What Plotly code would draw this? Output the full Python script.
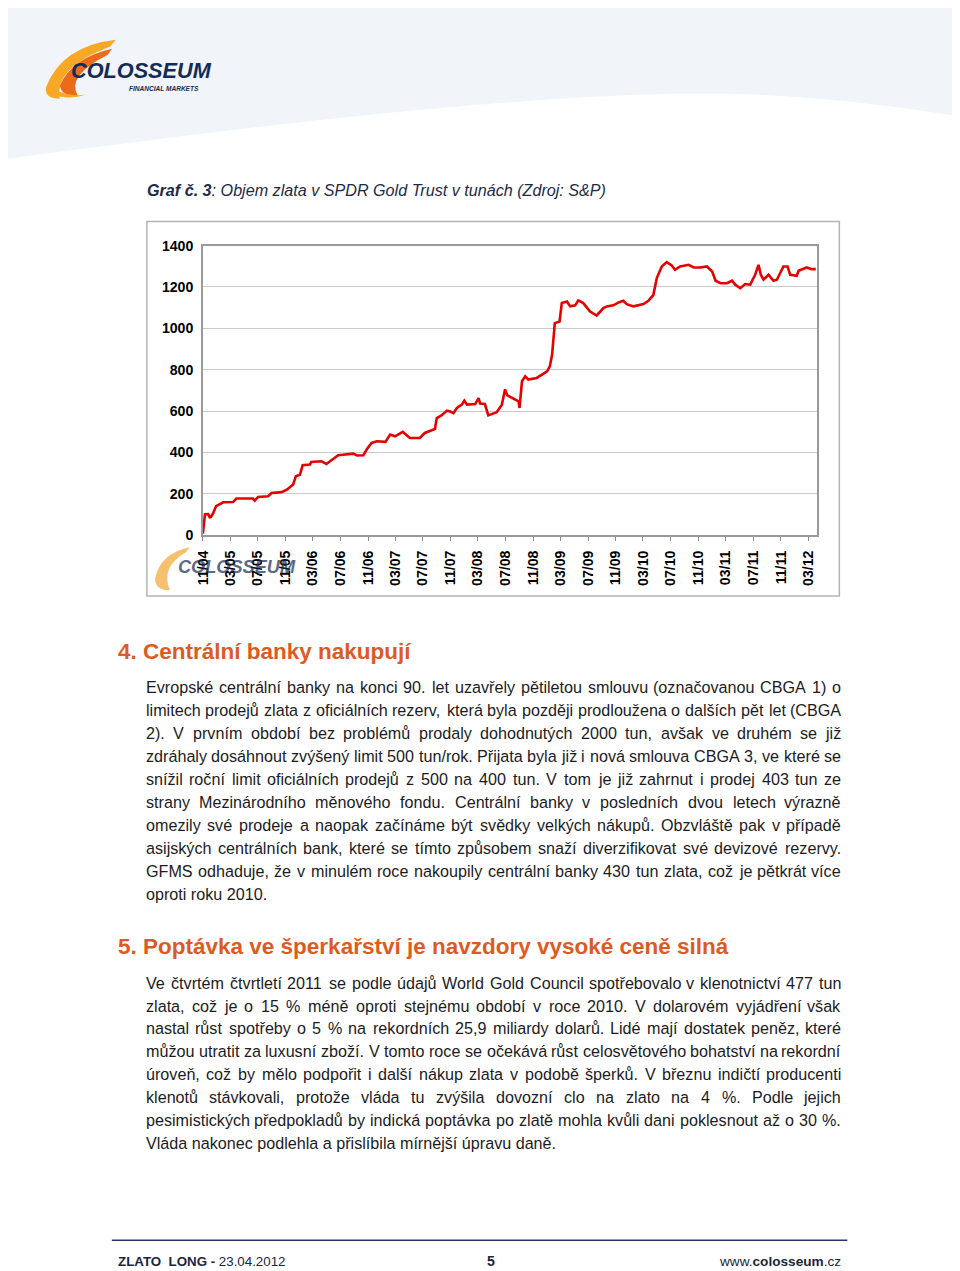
import unicodedata
from plotly import graph_objects as go

W, H = 960, 1271

# SPDR Gold Trust holdings (tonnes)
dates = [
    "2004-11-18", "2004-11-24", "2004-11-27", "2004-12-11", "2004-12-18", "2004-12-23",
    "2005-01-03", "2005-01-15", "2005-02-01", "2005-02-16", "2005-03-31", "2005-04-15",
    "2005-06-27", "2005-07-05", "2005-07-20", "2005-09-02", "2005-09-18", "2005-11-01",
    "2005-11-24", "2005-12-22", "2006-01-03", "2006-01-21", "2006-02-02", "2006-03-06",
    "2006-03-12", "2006-04-27", "2006-05-18", "2006-06-03", "2006-07-09", "2006-07-31",
    "2006-09-14", "2006-09-30", "2006-10-28", "2006-11-12", "2006-12-04", "2006-12-27",
    "2007-02-03", "2007-02-24", "2007-03-17", "2007-04-21", "2007-05-22", "2007-07-05",
    "2007-07-27", "2007-09-10", "2007-09-18", "2007-10-09", "2007-11-02", "2007-11-16",
    "2007-12-01", "2007-12-16", "2008-01-07", "2008-01-18", "2008-01-30", "2008-03-06",
    "2008-03-21", "2008-03-28", "2008-04-18", "2008-05-03", "2008-06-09", "2008-07-02",
    "2008-07-16", "2008-07-26", "2008-08-22", "2008-09-14", "2008-09-18", "2008-09-29",
    "2008-10-13", "2008-10-27", "2008-12-03", "2009-01-18", "2009-01-30", "2009-02-09",
    "2009-02-21", "2009-03-14", "2009-03-24", "2009-04-16", "2009-04-30", "2009-05-22",
    "2009-06-05", "2009-06-27", "2009-07-26", "2009-08-25", "2009-09-24", "2009-10-09",
    "2009-11-07", "2009-11-30", "2009-12-21", "2010-01-05", "2010-02-04", "2010-03-20",
    "2010-04-11", "2010-05-03", "2010-05-18", "2010-06-09", "2010-07-01", "2010-07-23",
    "2010-08-07", "2010-08-29", "2010-10-06", "2010-10-28", "2010-11-27", "2010-12-26",
    "2011-01-18", "2011-02-02", "2011-02-24", "2011-03-24", "2011-04-16", "2011-04-30",
    "2011-05-22", "2011-06-13", "2011-07-05", "2011-07-27", "2011-08-11", "2011-08-21",
    "2011-09-02", "2011-09-24", "2011-10-16", "2011-10-31", "2011-11-29", "2011-12-17",
    "2011-12-29", "2012-01-27", "2012-02-04", "2012-03-11", "2012-04-02", "2012-04-20",
]
tonnes = [
    8, 98, 101, 102, 87, 88,
    108, 140, 151, 159, 160, 177,
    177, 167, 185, 188, 204, 208,
    220, 245, 285, 292, 338, 341,
    354, 357, 344, 357, 386, 389,
    394, 385, 386, 414, 446, 454,
    451, 486, 478, 499, 470, 470,
    494, 513, 566, 579, 602, 598,
    590, 615, 631, 650, 631, 634,
    663, 636, 634, 579, 594, 631,
    705, 676, 660, 647, 615, 744,
    768, 752, 760, 792, 816, 872,
    1025, 1033, 1122, 1130, 1106, 1111,
    1135, 1122, 1082, 1062, 1098, 1106,
    1111, 1125, 1133, 1117, 1106, 1117,
    1133, 1162, 1243, 1299, 1320, 1304,
    1283, 1299, 1307, 1294, 1294, 1299,
    1275, 1230, 1218, 1218, 1230, 1211,
    1194, 1214, 1211, 1259, 1307, 1259,
    1235, 1259, 1230, 1235, 1299, 1299,
    1259, 1254, 1278, 1294, 1286, 1286,
]

tick_dates = [
    "2004-11-18", "2005-03-18", "2005-07-18", "2005-11-18", "2006-03-18", "2006-07-18",
    "2006-11-18", "2007-03-18", "2007-07-18", "2007-11-18", "2008-03-18", "2008-07-18",
    "2008-11-18", "2009-03-18", "2009-07-18", "2009-11-18", "2010-03-18", "2010-07-18",
    "2010-11-18", "2011-03-18", "2011-07-18", "2011-11-18", "2012-03-18",
]
tick_labels = [
    "11/04", "03/05", "07/05", "11/05", "03/06", "07/06", "11/06", "03/07", "07/07",
    "11/07", "03/08", "07/08", "11/08", "03/09", "07/09", "11/09", "03/10", "07/10",
    "11/10", "03/11", "07/11", "11/11", "03/12",
]

caption = "<b><i>Graf č. 3</i></b><i>: Objem zlata v SPDR Gold Trust v tunách (Zdroj: S&P)</i>"
heading4 = "4. Centrální banky nakupují"
para4 = [
    "Evropské centrální banky na konci 90. let uzavřely pětiletou smlouvu (označovanou CBGA 1) o",
    "limitech prodejů zlata z oficiálních rezerv, která byla později prodloužena o dalších pět let (CBGA",
    "2). V prvním období bez problémů prodaly dohodnutých 2000 tun, avšak ve druhém se již",
    "zdráhaly dosáhnout zvýšený limit 500 tun/rok. Přijata byla již i nová smlouva CBGA 3, ve které se",
    "snížil roční limit oficiálních prodejů z 500 na 400 tun. V tom je již zahrnut i prodej 403 tun ze",
    "strany Mezinárodního měnového fondu. Centrální banky v posledních dvou letech výrazně",
    "omezily své prodeje a naopak začínáme být svědky velkých nákupů. Obzvláště pak v případě",
    "asijských centrálních bank, které se tímto způsobem snaží diverzifikovat své devizové rezervy.",
    "GFMS odhaduje, že v minulém roce nakoupily centrální banky 430 tun zlata, což je pětkrát více",
    "oproti roku 2010.",
]
heading5 = "5. Poptávka ve šperkařství je navzdory vysoké ceně silná"
para5 = [
    "Ve čtvrtém čtvrtletí 2011 se podle údajů World Gold Council spotřebovalo v klenotnictví 477 tun",
    "zlata, což je o 15 % méně oproti stejnému období v roce 2010. V dolarovém vyjádření však",
    "nastal růst spotřeby o 5 % na rekordních 25,9 miliardy dolarů. Lidé mají dostatek peněz, které",
    "můžou utratit za luxusní zboží. V tomto roce se očekává růst celosvětového bohatství na rekordní",
    "úroveň, což by mělo podpořit i další nákup zlata v podobě šperků. V březnu indičtí producenti",
    "klenotů stávkovali, protože vláda tu zvýšila dovozní clo na zlato na 4 %. Podle jejich",
    "pesimistických předpokladů by indická poptávka po zlatě mohla kvůli dani poklesnout až o 30 %.",
    "Vláda nakonec podlehla a přislíbila mírnější úpravu daně.",
]

FONT = "Liberation Sans, Arial, sans-serif"
TEXT = "#1b1b24"
ORANGE = "#de5a22"
NAVY = "#132c57"

# the page is photographed slightly shrunk and shifted; layout below is in
# reference-picture pixels and mapped back to figure pixels here
SX, OX = 0.991, 16.2
SY, OY = 0.9888, 14.1

# Arial / Liberation Sans advance widths (per 1000 em)
ADV = dict(zip("abcdefghijklmnopqrstuvwxyz",
               [556, 556, 500, 556, 556, 278, 556, 556, 222, 222, 500, 222, 833,
                556, 556, 556, 556, 333, 500, 278, 556, 500, 722, 500, 500, 500]))
ADV.update(zip("ABCDEFGHIJKLMNOPQRSTUVWXYZ",
               [667, 667, 722, 722, 667, 611, 778, 722, 278, 500, 667, 556, 833,
                722, 778, 667, 778, 722, 667, 611, 722, 667, 944, 667, 667, 611]))
ADV.update({c: 556 for c in "0123456789"})
ADV.update({" ": 278, ".": 278, ",": 278, "(": 333, ")": 333, "%": 889,
            "/": 278, "-": 333, ":": 278, "&": 667,
            "í": 278, "ť": 375, "ď": 615})


def text_w(s, size):
    w = 0
    for ch in s:
        if ch in ADV:
            w += ADV[ch]
        else:
            w += ADV.get(unicodedata.normalize("NFD", ch)[0], 556)
    return w * size / 1000.0


def px(x):
    return (x - OX) / SX / W


def py(y):
    return 1 - (y - OY) / SY / H


def fs(size):
    return round(size / SX, 2)


def path(cmds):
    out = []
    for c in cmds:
        if isinstance(c, str):
            out.append(c)
        else:
            out.append(f"{px(c[0]):.5f},{py(c[1]):.5f}")
    return " ".join(out)


fig = go.Figure()

fig.add_trace(go.Scatter(
    x=dates, y=tonnes, mode="lines",
    line=dict(color="#e60000", width=2.6),
    showlegend=False, hoverinfo="skip",
))

ann = []


def label(x, y, text, size=16, color=TEXT, xanchor="left", **kw):
    ann.append(dict(x=px(x), y=py(y), xref="paper", yref="paper", text=text,
                    showarrow=False, xanchor=xanchor, yanchor="middle",
                    borderpad=0, borderwidth=0,
                    font=dict(family=FONT, size=fs(size), color=color), **kw))


def paragraph(lines, y0, left=146, right=841, step=23, size=16):
    for i, line in enumerate(lines):
        y = y0 + i * step
        if i == len(lines) - 1:
            label(left, y, line, size)
            continue
        words = line.split(" ")
        total = sum(text_w(w, size) for w in words)
        gap = (right - left - total) / (len(words) - 1)
        x = left
        for j, w in enumerate(words):
            if j == len(words) - 1:
                label(right, y, w, size, xanchor="right")
            else:
                label(x, y, w, size)
            x += text_w(w, size) + gap


# header
label(147, 188, caption, 16, color="#1c2a4a")
label(118, 650, "<b>" + heading4 + "</b>", 22.3, color=ORANGE)
paragraph(para4, 686)
label(118, 946, "<b>" + heading5 + "</b>", 22.3, color=ORANGE)
paragraph(para5, 982)

# footer
label(118, 1261, "<b>ZLATO&nbsp; LONG - </b>23.04.2012", 13.2, color="#1a2540")
label(491, 1261, "<b>5</b>", 14, color="#1a2540", xanchor="center")
label(841, 1261, "www.<b>colosseum</b>.cz", 13.5, color="#1a2540", xanchor="right")

# logo
label(71, 69, "<b><i>COLOSSEUM</i></b>", 21.5, color=NAVY)
label(199, 87, "<b><i>FINANCIAL MARKETS</i></b>", 6.5, color=NAVY, xanchor="right")
# watermark logo in the chart
label(178, 566, "<b><i>COLOSSEUM</i></b>", 18, color=NAVY, opacity=0.7)

shapes = [
    # light header band with curved lower edge
    dict(type="path", xref="paper", yref="paper", layer="below", line=dict(width=0),
         fillcolor="#f1f4f8",
         path=path(["M", (0, 0), "L", (980, 0), "L", (980, 118), "C", (860, 98), (770, 90),
                    (670, 92), "C", (450, 98), (200, 132), (0, 158), "Z"])),
    # logo swooshes
    dict(type="path", xref="paper", yref="paper", line=dict(width=0), fillcolor="#f7a825",
         path=path(["M", (116, 38), "Q", (62, 44), (46, 86), "Q", (45, 97), (60, 97),
                    "Q", (54, 66), (110, 45), "Z"])),
    dict(type="path", xref="paper", yref="paper", line=dict(width=0), fillcolor="#ec6a1c",
         path=path(["M", (112, 47), "Q", (72, 56), (60, 84), "Q", (62, 95), (78, 94),
                    "Q", (66, 74), (108, 53), "Z"])),
    dict(type="path", xref="paper", yref="paper", line=dict(width=0), fillcolor="#f7a825",
         path=path(["M", (52, 92), "Q", (66, 99), (86, 93), "Q", (68, 95), (56, 88), "Z"])),
    # watermark swoosh
    dict(type="path", xref="paper", yref="paper", line=dict(width=0), fillcolor="#f5b04a",
         opacity=0.8,
         path=path(["M", (190, 546), "Q", (160, 552), (155, 578), "Q", (156, 590), (170, 589),
                    "Q", (160, 566), (186, 551), "Z"])),
    # chart frame
    dict(type="rect", xref="paper", yref="paper", layer="below",
         x0=px(147), x1=px(839), y0=py(595), y1=py(220),
         line=dict(color="#b4b4b4", width=1.5), fillcolor="white"),
    # footer rule
    dict(type="line", xref="paper", yref="paper",
         x0=px(112), x1=px(847), y0=py(1240), y1=py(1240),
         line=dict(color="#1f3864", width=1.6)),
]

fig.update_layout(
    width=W, height=H,
    margin=dict(l=0, r=0, t=0, b=0),
    paper_bgcolor="white",
    plot_bgcolor="white",
    font=dict(family=FONT, color=TEXT),
    showlegend=False,
    annotations=ann,
    shapes=shapes,
    xaxis=dict(
        domain=[px(203), px(817)],
        type="date",
        range=["2004-11-18", "2012-04-27"],
        tickmode="array", tickvals=tick_dates, ticktext=tick_labels,
        tickangle=-90,
        tickfont=dict(family=FONT, size=fs(14), color="black", weight="bold"),
        ticks="outside", ticklen=4, tickcolor="#8c8c8c",
        showgrid=False, zeroline=False,
        showline=True, linecolor="#9a9a9a", linewidth=1.5, mirror=True,
        ticklabelstandoff=4,
    ),
    yaxis=dict(
        domain=[py(534), py(244)],
        range=[0, 1400],
        tickvals=[0, 200, 400, 600, 800, 1000, 1200, 1400],
        tickfont=dict(family=FONT, size=fs(14), color="black", weight="bold"),
        showgrid=True, gridcolor="#cacaca", gridwidth=1,
        zeroline=False,
        showline=True, linecolor="#9a9a9a", linewidth=1.5, mirror=True,
        ticks="", ticklabelstandoff=5,
    ),
)

fig.write_html("out.html")
